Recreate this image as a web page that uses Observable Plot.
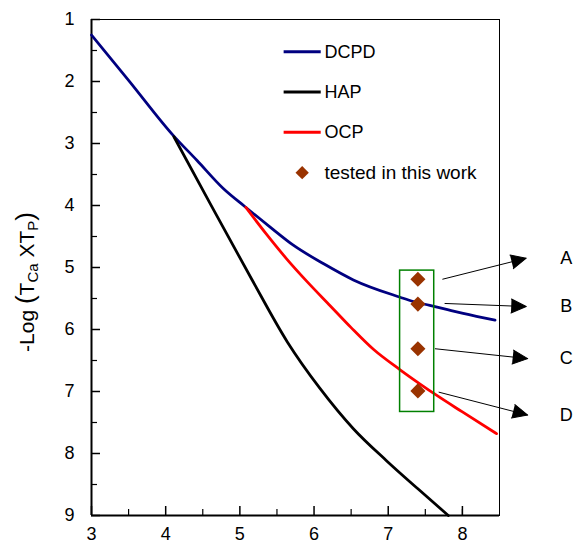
<!DOCTYPE html>
<html><head><meta charset="utf-8">
<script src="https://cdn.jsdelivr.net/npm/d3@7"></script>
<script src="https://cdn.jsdelivr.net/npm/@observablehq/plot@0.6"></script>
<style>body{margin:0;background:#fff}#chart svg{display:block}</style>
</head><body><div id="chart"></div>
<script>
// ---- data ----
const dcpdX = [3.00, 3.50, 4.11, 4.42, 4.78, 5.07, 5.40, 5.72, 6.13, 6.53, 7.16, 7.34, 7.56, 7.80, 8.01, 8.44];
const dcpdY = [1.25, 1.98, 2.88, 3.27, 3.73, 4.02, 4.34, 4.64, 4.94, 5.20, 5.48, 5.55, 5.61, 5.68, 5.74, 5.85];
const hapX  = [4.11, 4.60, 5.16, 5.64, 6.08, 6.53, 6.98, 7.40, 7.81];
const hapY  = [2.89, 3.97, 5.19, 6.20, 6.95, 7.60, 8.12, 8.57, 9.00];
const ocpX  = [5.08, 5.35, 5.63, 5.90, 6.22, 6.50, 6.80, 7.16, 7.43, 7.65, 8.00, 8.46];
const ocpY  = [4.03, 4.45, 4.86, 5.22, 5.62, 5.97, 6.32, 6.65, 6.88, 7.06, 7.33, 7.68];
const testedX = [7.40, 7.40, 7.40, 7.40];
const testedY = [5.19, 5.59, 6.31, 6.99];
const testedLabels = ["A", "B", "C", "D"];
const seriesNames = ["DCPD", "HAP", "OCP"];
const seriesColors = ["#000080", "#000000", "#ff0000"];
const pointLegend = "tested in this work";
const xMajor = [3, 4, 5, 6, 7, 8];
const xMinor = [3.5, 4.5, 5.5, 6.5, 7.5, 8];
const yMajor = [1, 2, 3, 4, 5, 6, 7, 8, 9];
const yMinor = [1.5, 2.5, 3.5, 4.5, 5.5, 6.5, 7.5, 8.5];

// ---- layout ----
const W = 576, H = 543, ML = 91, MR = 77, MT = 19, MB = 28;
const xDomain = [3, 8.5], yDomain = [1, 9];
const ppx = (W - ML - MR) / (xDomain[1] - xDomain[0]);
const ppy = (H - MT - MB) / (yDomain[1] - yDomain[0]);
// annotation arrows (start near point -> tip outside frame)
const arrowX1 = [7.73, 7.76, 7.63, 7.68];
const arrowY1 = [5.19, 5.58, 6.31, 7.01];
const arrowX2 = [8.86, 8.86, 8.88, 8.88];
const arrowY2 = [4.85, 5.63, 6.47, 7.38];
const labelX = 9.40;
const box = {x1: 7.16, x2: 7.62, y1: 5.05, y2: 7.33};
const legend = {lineX1: 5.59, lineX2: 6.09, textX: 6.14, markX: 5.84, y0: 1.52, step: 0.65};

const rows = [];
[[dcpdX, dcpdY], [hapX, hapY], [ocpX, ocpY]].forEach(([xs, ys], s) =>
  xs.forEach((x, i) => rows.push({x, y: ys[i], series: seriesNames[s]})));
const tested = testedX.map((x, i) => ({x, y: testedY[i]}));
const arrows = testedLabels.map((label, i) => ({label, x1: arrowX1[i], y1: arrowY1[i], x2: arrowX2[i], y2: arrowY2[i]}));
const legRows = seriesNames.map((name, i) => ({name, color: seriesColors[i], y: legend.y0 + i * legend.step}));
const legPointY = legend.y0 + 3 * legend.step;

const plot = Plot.plot({
  width: W, height: H,
  marginLeft: ML, marginRight: MR, marginTop: MT, marginBottom: MB,
  style: {fontFamily: "'Liberation Sans', Arial, sans-serif", fontSize: "18px", background: "white", color: "black", overflow: "visible"},
  x: {domain: xDomain},
  y: {domain: yDomain, reverse: true},
  color: {domain: seriesNames, range: seriesColors},
  marks: [
    Plot.frame({stroke: "black", strokeWidth: 1}),
    Plot.ruleX([xDomain[0]], {stroke: "black", strokeWidth: 2}),
    Plot.ruleY([yDomain[1]], {stroke: "black", strokeWidth: 2}),
    Plot.axisX({ticks: xMajor, tickSize: 0, tickPadding: 12, label: null, tickFormat: d => String(d)}),
    Plot.axisX({ticks: xMajor, tickSize: -9, fill: "none", label: null, strokeWidth: 1.5}),
    Plot.axisX({ticks: xMinor, tickSize: -6, fill: "none", label: null, strokeWidth: 1.2}),
    Plot.axisY({ticks: yMajor, tickSize: 0, tickPadding: 17, label: null, tickFormat: d => String(d)}),
    Plot.axisY({ticks: yMajor, tickSize: -9, fill: "none", label: null, strokeWidth: 1.5}),
    Plot.axisY({ticks: yMinor, tickSize: -6, fill: "none", label: null, strokeWidth: 1.2}),
    Plot.line(rows, {x: "x", y: "y", z: "series", stroke: "series", strokeWidth: 2.75, curve: "monotone-x"}),
    Plot.rect([box], {x1: "x1", x2: "x2", y1: "y1", y2: "y2", fill: "none", stroke: "#008000", strokeWidth: 1.5}),
    Plot.dot(tested, {x: "x", y: "y", symbol: "diamond2", r: 6.8, fill: "#993300", stroke: "none"}),
    Plot.link(arrows, {x1: "x1", y1: "y1", x2: "x2", y2: "y2", stroke: "black", strokeWidth: 1}),
    Plot.vector(arrows, {x: "x2", y: "y2", shape: "spike", anchor: "end", length: 15, r: 7, fill: "black", stroke: "black", strokeWidth: 1,
      rotate: d => Math.atan2((d.x2 - d.x1) * ppx, -(d.y2 - d.y1) * ppy) * 180 / Math.PI}),
    Plot.text(arrows, {x: () => labelX, y: "y2", text: "label", fontSize: 18, fill: "black"}),
    // legend
    Plot.link(legRows, {x1: () => legend.lineX1, x2: () => legend.lineX2, y1: "y", y2: "y", stroke: "color", strokeWidth: 3}),
    Plot.text(legRows, {x: () => legend.textX, y: "y", text: "name", textAnchor: "start", fontSize: 18, fill: "black"}),
    Plot.dot([pointLegend], {x: () => legend.markX, y: () => legPointY, symbol: "diamond2", r: 6.0, fill: "#993300", stroke: "none"}),
    Plot.text([pointLegend], {x: () => legend.textX, y: () => legPointY, text: d => d, textAnchor: "start", fontSize: 19, fill: "black"})
  ]
});

// y-axis title with subscripts
const svg = d3.select(plot);
const t = svg.append("text")
  .attr("transform", "translate(34,282) rotate(-90)")
  .attr("text-anchor", "middle")
  .attr("fill", "black")
  .style("font-family", "'Liberation Sans', Arial, sans-serif")
  .style("font-size", "21px");
t.append("tspan").text("-Log ");
t.append("tspan").style("font-size", "26px").text("(");
t.append("tspan").text("T");
t.append("tspan").attr("dy", 4).style("font-size", "15px").text("Ca");
t.append("tspan").attr("dy", -4).text(" XT");
t.append("tspan").attr("dy", 4).style("font-size", "15px").text("P");
t.append("tspan").attr("dy", -4).style("font-size", "26px").text(")");

document.getElementById("chart").appendChild(plot);
</script>
</body></html>
